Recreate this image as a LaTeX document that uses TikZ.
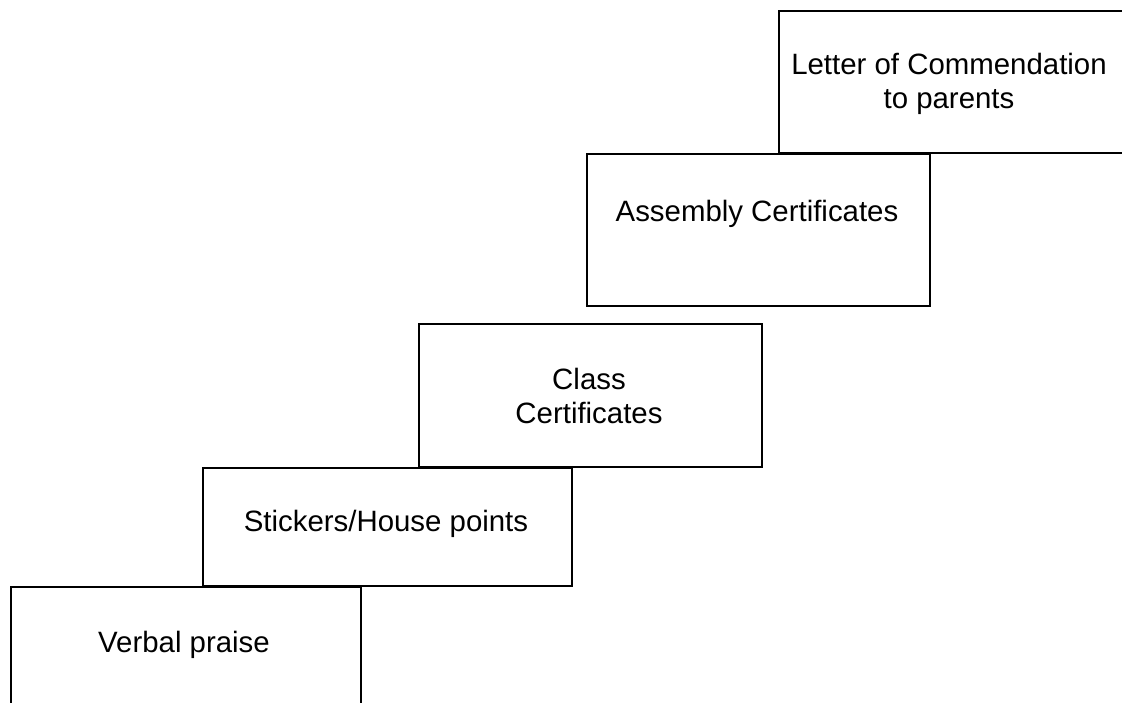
\documentclass[tikz,border=0pt]{standalone}
\usepackage{fontspec}
\setmainfont{Liberation Sans}
\begin{document}
\begin{tikzpicture}[x=1pt,y=-1pt,
  stepbox/.style={draw=black,line width=1.8pt,inner sep=0pt,anchor=north west},
  lbl/.style={inner sep=0pt,align=center,font=\fontsize{29.4}{34}\selectfont}]
\useasboundingbox (0,0) rectangle (1122,702);
\clip (0,0) rectangle (1122,702);
\node[stepbox,minimum width=350pt,minimum height=160pt] (verbal) at (10,586) {};
\node[stepbox,minimum width=369pt,minimum height=118pt] (stick) at (202,467) {};
\node[stepbox,minimum width=343pt,minimum height=143pt] (class) at (418,323) {};
\node[stepbox,minimum width=343pt,minimum height=152pt] (assem) at (586,153) {};
\node[stepbox,minimum width=380pt,minimum height=142pt] (letter) at (778,10) {};
\node[lbl] (tverbal) at (184,645) {Verbal praise};
\node[lbl] (tstick) at (386,524) {Stickers/House points};
\node[lbl] (tclass) at (589,396) {Class\\Certificates};
\node[lbl] (tassem) at (757,214) {Assembly Certificates};
\node[lbl] (tletter) at (949,84) {Letter of Commendation\\to parents};
\end{tikzpicture}
\end{document}
